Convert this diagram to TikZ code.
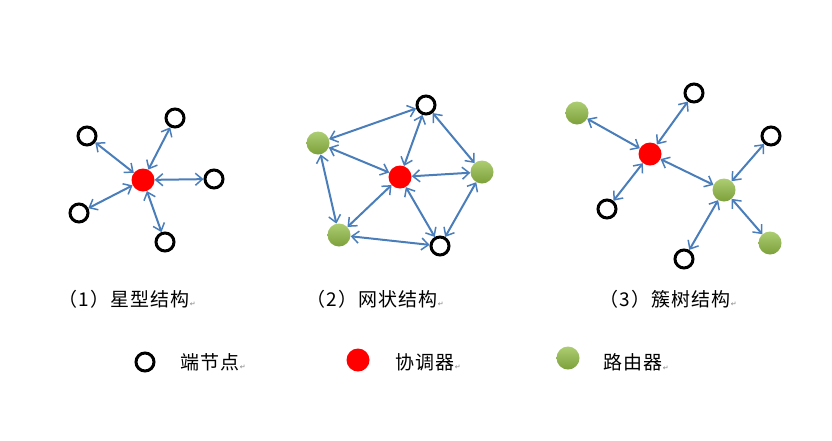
\documentclass[tikz,border=0pt]{standalone}
\usepackage{fontspec}
\usetikzlibrary{arrows.meta}
\newfontfamily\cjk{Noto Sans CJK SC}[LetterSpace=6]
\newfontfamily\retfont{DejaVu Sans}
\definecolor{linkblue}{RGB}{74,126,187}
\definecolor{routergreen}{RGB}{146,188,68}
\newcommand{\retmark}{{\retfont\fontsize{7}{8}\selectfont\color{gray}\raisebox{-0.2ex}{↵}}}

\begin{document}
\begin{tikzpicture}[x=1pt,y=-1pt,
  >={Straight Barb[length=7pt,width=12pt,line width=1.5pt]},
  link/.style={<->,draw=linkblue,line width=2pt},
  enddev/.style={circle,draw=black,line width=3pt,fill=white,minimum size=18pt,inner sep=0pt},
  coord/.style={circle,fill=red,minimum size=23pt,inner sep=0pt},
  router/.style={circle,inner sep=0pt,minimum size=23pt,
    top color=routergreen!75!white,bottom color=routergreen!85!black},
  caption/.style={anchor=west,font=\cjk\fontsize{19}{22}\selectfont}]
  \useasboundingbox (0,0) rectangle (832,440);

  % (1) star
  \node[coord]  (sc) at (143,180) {};
  \node[enddev] (s1) at (87,136)  {};
  \node[enddev] (s2) at (175,118) {};
  \node[enddev] (s3) at (214,179) {};
  \node[enddev] (s4) at (79,213)  {};
  \node[enddev] (s5) at (165,242) {};
  \draw[link] (sc) -- (s1);
  \draw[link] (sc) -- (s2);
  \draw[link] (sc) -- (s3);
  \draw[link] (sc) -- (s4);
  \draw[link] (sc) -- (s5);

  % (2) mesh
  \node[coord]  (mc) at (400,177) {};
  \node[enddev] (m1) at (426,105) {};
  \node[enddev] (m2) at (440,246) {};
  \node[router] (r1) at (318,143) {};
  \node[router] (r2) at (482,172) {};
  \node[router] (r3) at (339,235) {};
  \draw[link] (mc) -- (m1);
  \draw[link] (mc) -- (m2);
  \draw[link] (mc) -- (r1);
  \draw[link] (mc) -- (r2);
  \draw[link] (mc) -- (r3);
  \draw[link] (r1) -- (m1);
  \draw[link] (m1) -- (r2);
  \draw[link] (r2) -- (m2);
  \draw[link] (m2) -- (r3);
  \draw[link] (r3) -- (r1);

  % (3) cluster tree
  \node[coord]  (tc) at (650,154) {};
  \node[router] (t1) at (577,113) {};
  \node[router] (t2) at (724,190) {};
  \node[router] (t3) at (770,243) {};
  \node[enddev] (e1) at (694,93)  {};
  \node[enddev] (e2) at (771,136) {};
  \node[enddev] (e3) at (607,209) {};
  \node[enddev] (e4) at (684,259) {};
  \draw[link] (tc) -- (t1);
  \draw[link] (tc) -- (e1);
  \draw[link] (tc) -- (e3);
  \draw[link] (tc) -- (t2);
  \draw[link] (t2) -- (e2);
  \draw[link] (t2) -- (e4);
  \draw[link] (t2) -- (t3);

  % captions
  \node[caption] (cap1) at (55,299)  {（1）星型结构\retmark};
  \node[caption] (cap2) at (303,299) {（2）网状结构\retmark};
  \node[caption] (cap3) at (596,299) {（3）簇树结构\retmark};

  % legend
  \node[enddev] (k1) at (145,362) {};
  \node[coord]  (k2) at (358,360) {};
  \node[router] (k3) at (568,358) {};
  \node[caption] (l1) at (177,362) {端节点\retmark};
  \node[caption] (l2) at (392,362) {协调器\retmark};
  \node[caption] (l3) at (600,362) {路由器\retmark};
\end{tikzpicture}
\end{document}
